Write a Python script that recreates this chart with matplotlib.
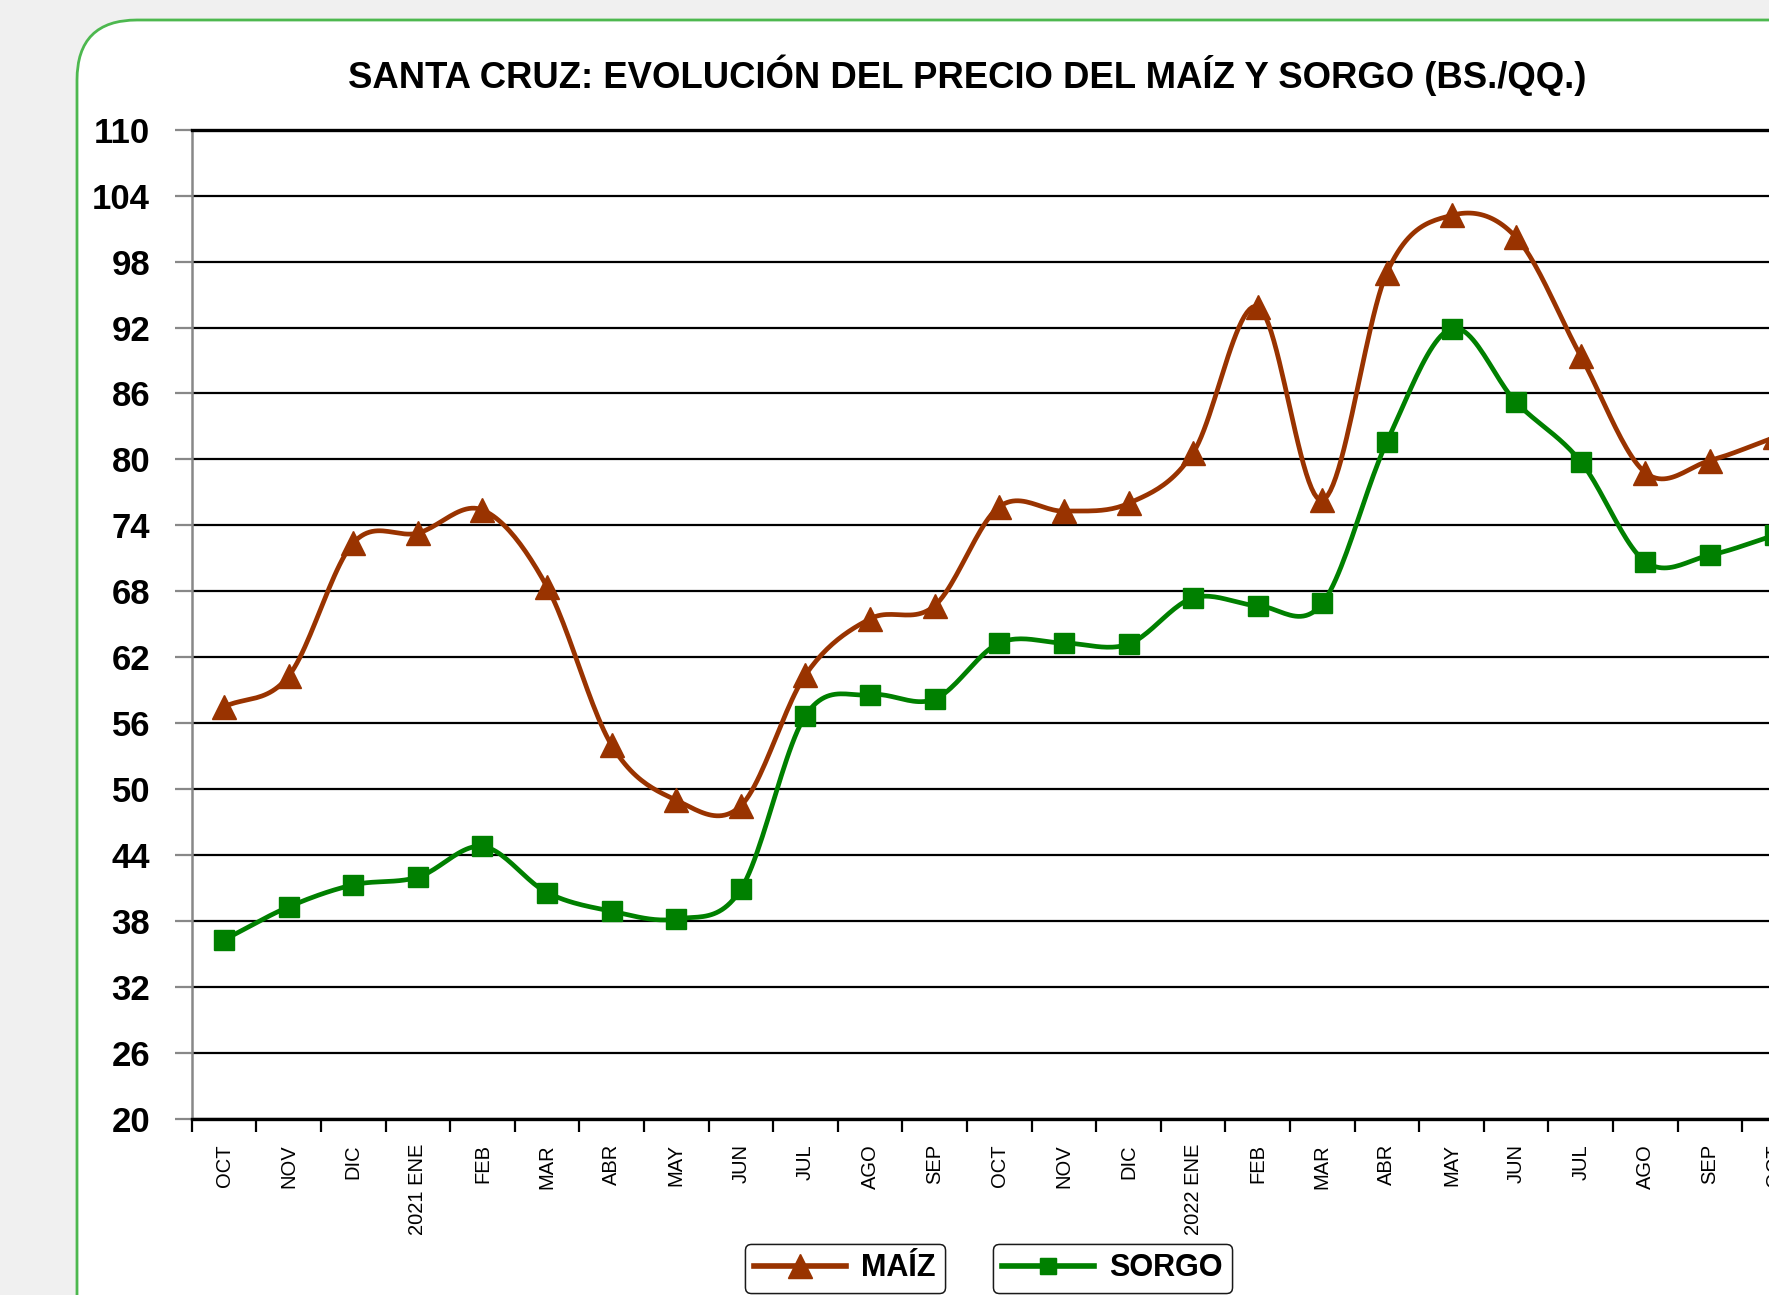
import matplotlib
matplotlib.use('Agg')
import matplotlib.pyplot as plt
import numpy as np
from matplotlib import font_manager
from matplotlib.patches import FancyBboxPatch

# --- data -------------------------------------------------------------
months = ['OCT', 'NOV', 'DIC', '2021 ENE', 'FEB', 'MAR', 'ABR', 'MAY', 'JUN',
          'JUL', 'AGO', 'SEP', 'OCT', 'NOV', 'DIC', '2022 ENE', 'FEB', 'MAR',
          'ABR', 'MAY', 'JUN', 'JUL', 'AGO', 'SEP', 'OCT']
maiz = [57.5, 60.3, 72.4, 73.3, 75.4, 68.4, 54.0, 49.0, 48.5, 60.4, 65.5, 66.7,
        75.7, 75.3, 76.0, 80.6, 93.9, 76.3, 97.0, 102.2, 100.2, 89.4, 78.8, 79.9, 82.0]
sorgo = [36.3, 39.3, 41.3, 42.0, 44.8, 40.6, 38.9, 38.2, 40.9, 56.7, 58.6, 58.2,
         63.3, 63.3, 63.2, 67.4, 66.7, 66.9, 81.6, 91.9, 85.2, 79.8, 70.7, 71.3, 73.1]
yticks = [20, 26, 32, 38, 44, 50, 56, 62, 68, 74, 80, 86, 92, 98, 104, 110]

MAIZ_COLOR = '#993300'
SORGO_COLOR = '#008000'

installed = {f.name for f in font_manager.fontManager.ttflist}
narrow = 'Liberation Sans Narrow' if 'Liberation Sans Narrow' in installed else 'Liberation Sans'
plt.rcParams['font.family'] = ['Liberation Sans', 'DejaVu Sans']


def smooth(xs, ys, n=24):
    """Catmull-Rom curve through the points (like Excel's smoothed line)."""
    xs = np.asarray(xs, float)
    ys = np.asarray(ys, float)
    px = np.concatenate([[2 * xs[0] - xs[1]], xs, [2 * xs[-1] - xs[-2]]])
    py = np.concatenate([[2 * ys[0] - ys[1]], ys, [2 * ys[-1] - ys[-2]]])
    t = np.linspace(0, 1, n, endpoint=False)
    ox, oy = [], []
    for i in range(1, len(px) - 2):
        for p, out in ((px, ox), (py, oy)):
            p0, p1, p2, p3 = p[i - 1], p[i], p[i + 1], p[i + 2]
            out.extend(0.5 * ((2 * p1) + (-p0 + p2) * t
                              + (2 * p0 - 5 * p1 + 4 * p2 - p3) * t ** 2
                              + (-p0 + 3 * p1 - 3 * p2 + p3) * t ** 3))
    ox.append(xs[-1])
    oy.append(ys[-1])
    return np.array(ox), np.array(oy)


fig = plt.figure(figsize=(17.69, 12.95), dpi=100)
fig.patch.set_facecolor('#f0f0f0')

# rounded white panel with green border, running off the right/bottom edges
panel = FancyBboxPatch((0.77, -1.0), 20.0, 13.75,
                       boxstyle='round,pad=0,rounding_size=0.6',
                       transform=fig.dpi_scale_trans, facecolor='white',
                       edgecolor='#4db84f', linewidth=2, zorder=-10)
fig.add_artist(panel)

ax = fig.add_axes([0.1084, 0.1359, 0.913, 0.764])
ax.set_facecolor('none')
ax.set_zorder(1)

x = np.arange(len(months))
sx, sy = smooth(x, maiz)
ax.plot(sx, sy, color=MAIZ_COLOR, lw=3.4, zorder=3)
ax.plot(x, maiz, ls='none', marker='^', ms=17, color=MAIZ_COLOR, zorder=4)
sx, sy = smooth(x, sorgo)
ax.plot(sx, sy, color=SORGO_COLOR, lw=3.4, zorder=3)
ax.plot(x, sorgo, ls='none', marker='s', ms=14, color=SORGO_COLOR, zorder=4)

ax.set_xlim(-0.5, len(months) - 0.5)
ax.set_ylim(20, 110)
ax.set_yticks(yticks)
ax.set_yticklabels([str(v) for v in yticks], fontsize=25, fontweight='bold',
                   family=narrow)
ax.yaxis.grid(True, color='black', lw=1.6)
ax.set_axisbelow(True)
ax.tick_params(axis='y', length=12, width=1.6, color='#888888', pad=18)

ax.set_xticks(np.arange(len(months) + 1) - 0.5)
ax.set_xticklabels([])
ax.tick_params(axis='x', which='major', length=9, width=1.6, color='black')
ax.set_xticks(x, minor=True)
ax.set_xticklabels(months, minor=True, rotation=90, fontsize=14.5, va='top')
ax.tick_params(axis='x', which='minor', length=0, pad=18)

ax.spines['right'].set_visible(False)
ax.spines['top'].set_linewidth(2.4)
ax.spines['bottom'].set_linewidth(2.4)
ax.spines['left'].set_color('#888888')
ax.spines['left'].set_linewidth(1.8)

fig.text(0.5466, 0.942, 'SANTA CRUZ: EVOLUCIÓN DEL PRECIO DEL MAÍZ Y SORGO (BS./QQ.)',
         ha='center', va='center', fontsize=26.3, fontweight='bold', family=narrow)

# two separate legend boxes
h_maiz = plt.Line2D([], [], color=MAIZ_COLOR, lw=4, marker='^', ms=17)
h_sorgo = plt.Line2D([], [], color=SORGO_COLOR, lw=4, marker='s', ms=12)
for handle, label, xc in [(h_maiz, 'MAÍZ', 0.4777), (h_sorgo, 'SORGO', 0.629)]:
    leg = fig.legend([handle], [label], loc='center', bbox_to_anchor=(xc, 0.0205),
                     frameon=True, fancybox=True, handlelength=3.0,
                     prop={'family': narrow, 'weight': 'bold', 'size': 22},
                     borderpad=0.3, handletextpad=0.5)
    leg.get_frame().set_edgecolor('black')
    leg.get_frame().set_linewidth(1)
    fig.add_artist(leg)

fig.savefig('out.png', dpi=100)
